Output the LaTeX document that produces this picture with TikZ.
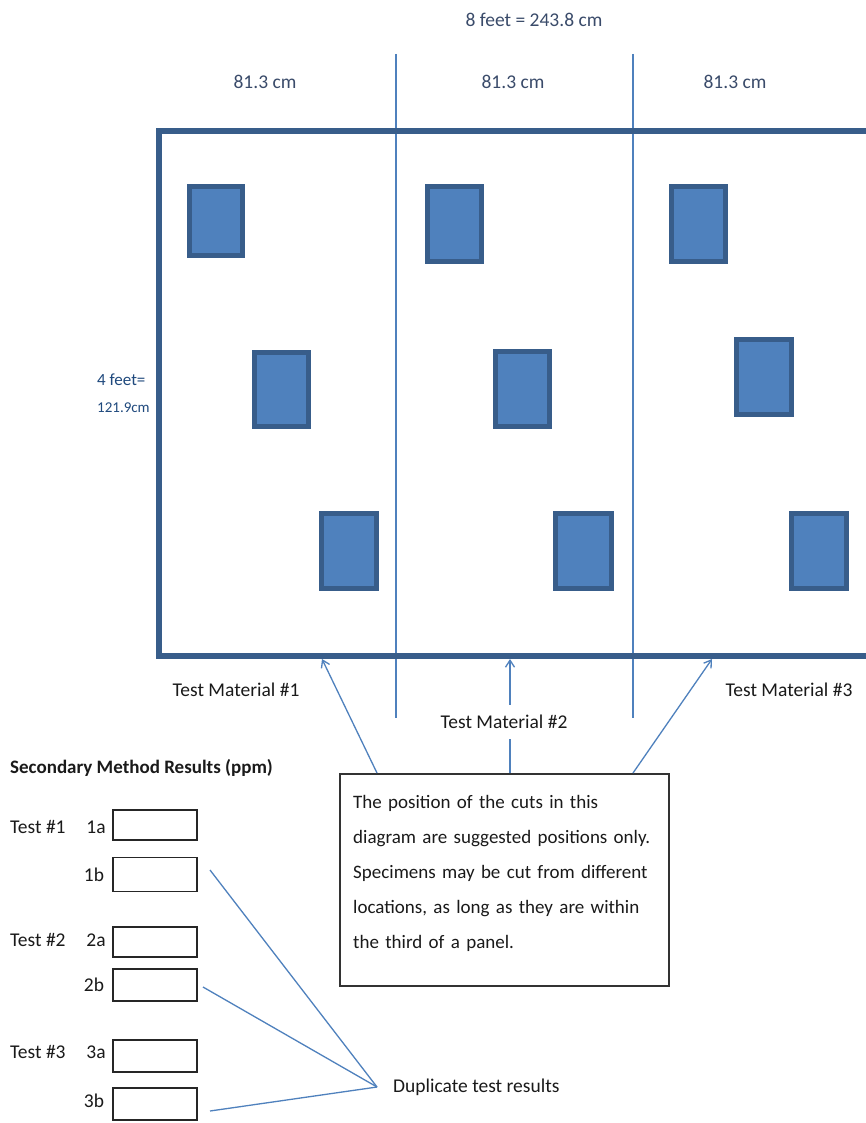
\documentclass[tikz,border=0pt]{standalone}
\usepackage{fontspec}
\setmainfont{Carlito}
\usetikzlibrary{arrows.meta,calc}
\definecolor{sqfill}{HTML}{4F81BD}
\definecolor{sqedge}{HTML}{385D8A}
\definecolor{divline}{HTML}{4F81BD}
\definecolor{dimtxt}{HTML}{3A4B6A}
\definecolor{dimblue}{HTML}{1F497D}
\definecolor{bodytxt}{HTML}{1A1A1A}
\tikzset{
  pic/.style={x=1pt,y=-1pt},
  txt/.style={inner sep=0pt,text=bodytxt,font=\fontsize{19.5}{23}\selectfont},
  dimlab/.style={inner sep=0pt,text=dimtxt,font=\fontsize{19.5}{23}\selectfont},
  sq/.style={draw=sqedge,fill=sqfill,line width=5pt},
  frame/.style={draw=sqedge,line width=6pt},
  divider/.style={draw=divline,line width=1.3pt},
  pointer/.style={draw=divline,line width=1.3pt,-{Straight Barb[length=7pt,width=9pt]}},
  leader/.style={draw=divline,line width=1.3pt},
  resbox/.style={draw=black!85,line width=1.6pt,minimum width=84pt,inner sep=0pt},
  notebox/.style={draw=black!80,line width=2pt,anchor=north west,minimum width=329pt,minimum height=212pt,inner sep=0pt},
  notetext/.style={anchor=north west,text width=315pt,align=left,inner sep=0pt,text=bodytxt,font=\fontsize{19}{35}\selectfont},
}
\begin{document}
\begin{tikzpicture}[pic]
\useasboundingbox (0,0) rectangle (866,1123);
\clip (0,0) rectangle (866,1123);
\fill[white] (0,0) rectangle (866,1123);

% dividers
\draw[divider] (396,54) -- (396,718);
\draw[divider] (633,54) -- (633,718);

% panel frame
\draw[frame] (159,131.5) rectangle (890,656);

% specimen squares
\draw[sq] (189.5,186.5) rectangle (242.5,255.5);
\draw[sq] (427.5,186.5) rectangle (481.5,261.5);
\draw[sq] (671.5,186.5) rectangle (725.5,261.5);
\draw[sq] (254.5,352.5) rectangle (308.5,426.5);
\draw[sq] (495.5,351.5) rectangle (549.5,426.5);
\draw[sq] (736.5,339.5) rectangle (791.5,414.5);
\draw[sq] (321.5,513.5) rectangle (376.5,588.5);
\draw[sq] (555.5,513.5) rectangle (611.5,588.5);
\draw[sq] (791.5,513.5) rectangle (846.5,588.5);

% dimension labels
\node[dimlab] (total) at (534,20) {8 feet = 243.8 cm};
\node[dimlab] (d1) at (265,82) {81.3 cm};
\node[dimlab] (d2) at (513,82) {81.3 cm};
\node[dimlab] (d3) at (735,82) {81.3 cm};
\node[inner sep=0pt,text=dimblue,anchor=west,font=\fontsize{17}{20}\selectfont] (h1) at (97,380) {4 feet=};
\node[inner sep=0pt,text=dimblue,anchor=west,font=\fontsize{15}{18}\selectfont] (h2) at (97,408) {121.9cm};

% note box
\node[notebox] (note) at (339,773) {};
\node[notetext] (notetxt) at ($(note.north west)+(14,22)$) {The position of the cuts in this\\ diagram are suggested positions only.\\ Specimens may be cut from different\\ locations, as long as they are within\\ the third of a panel.};

% arrow targets on the panel edge
\coordinate (t1) at (322,659);
\coordinate (t2) at (510,659);
\coordinate (t3) at (712,659);
\draw[pointer] ($(note.north west)+(38,0)$) -- (t1);
\draw[pointer] ($(note.north west)+(171,0)$) -- (t2);
\draw[pointer] ($(note.north west)+(294,0)$) -- (t3);

% test material labels
\node[txt] (m1) at (236,690) {Test Material \#1};
\node[txt,fill=white,inner xsep=2pt,inner ysep=10pt] (m2) at (504,722) {Test Material \#2};
\node[txt] (m3) at (789,690) {Test Material \#3};

% results section
\node[txt,anchor=west,font=\bfseries\fontsize{19}{23}\selectfont] (sec) at (10,768) {Secondary Method Results (ppm)};

\node[txt,anchor=west] (test1) at (10,827) {Test \#1};
\node[txt] (l1a) at (96,827) {1a};
\node[resbox,minimum height=30pt] (b1a) at (155,825) {};
\node[txt] (l1b) at (94,875) {1b};
\node[resbox,minimum height=34pt] (b1b) at (155,874.5) {};

\node[txt,anchor=west] (test2) at (10,940) {Test \#2};
\node[txt] (l2a) at (96,940) {2a};
\node[resbox,minimum height=30pt] (b2a) at (155,942) {};
\node[txt] (l2b) at (94,985) {2b};
\node[resbox,minimum height=32pt] (b2b) at (155,985) {};

\node[txt,anchor=west] (test3) at (10,1052) {Test \#3};
\node[txt] (l3a) at (96,1052) {3a};
\node[resbox,minimum height=32pt] (b3a) at (155,1056) {};
\node[txt] (l3b) at (94,1101) {3b};
\node[resbox,minimum height=32pt] (b3b) at (155,1104) {};

% duplicate leaders
\node[txt,anchor=west,inner xsep=16pt] (dup) at (377,1087) {Duplicate test results};
\coordinate (c1) at (210,870);
\coordinate (c2) at (203,987);
\coordinate (c3) at (210,1111);
\draw[leader] (c1) -- (dup.west);
\draw[leader] (c2) -- (dup.west);
\draw[leader] (c3) -- (dup.west);
\end{tikzpicture}
\end{document}
